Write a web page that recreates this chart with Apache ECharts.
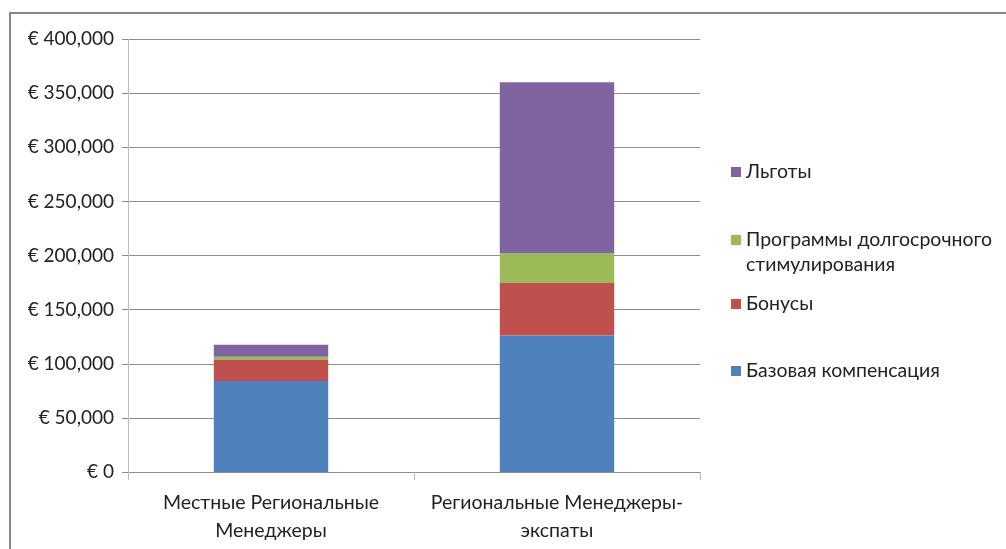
<!DOCTYPE html>
<html>
    <head>
        <meta charset="UTF-8">
        <script src="https://cdn.jsdelivr.net/npm/echarts@6/dist/echarts.min.js"></script>
        <style>
            body { margin: 0; background: #fff; }
        </style>
    </head>
    <body>
        <div id="main" style="width:1006px;height:549px"></div>
        <script type="text/javascript">
            var categories = ['Местные Региональные\nМенеджеры', 'Региональные Менеджеры-\nэкспаты'];
            var seriesNames = ['Базовая компенсация', 'Бонусы', 'Программы долгосрочного стимулирования', 'Льготы'];
            var baseComp = [84000, 126000];
            var bonuses = [19500, 48500];
            var longTerm = [3000, 27500];
            var benefits = [11000, 158000];
            var colors = ['#4F81BD', '#C0504D', '#9BBB59', '#8064A2'];
            var legendTops = [360, 293, 229, 161];

            var chartDom = document.getElementById('main');
            var myChart = echarts.init(chartDom);
            var font = 'Lato, "Open Sans", sans-serif';

            function euro(v) {
                return '€ ' + v.toString().replace(/\B(?=(\d{3})+(?!\d))/g, ',');
            }

            var values = [baseComp, bonuses, longTerm, benefits];
            var series = [];
            var legends = [];
            for (var i = 0; i < seriesNames.length; i++) {
                series.push({
                    name: seriesNames[i],
                    type: 'bar',
                    stack: 'total',
                    barWidth: '40%',
                    data: values[i],
                    itemStyle: { color: colors[i] }
                });
                legends.push({
                    data: [seriesNames[i]],
                    left: 731,
                    top: legendTops[i],
                    padding: 0,
                    itemWidth: 10,
                    itemHeight: 10,
                    icon: 'rect',
                    selectedMode: false,
                    // long name: first line here, second line drawn as graphic text
                    formatter: function (name) {
                        return name.indexOf('Программы') === 0 ? 'Программы долгосрочного' : name;
                    },
                    textStyle: { fontFamily: font, fontSize: 19.5, color: '#222', lineHeight: 22 }
                });
            }

            var option = {
                animation: false,
                backgroundColor: '#fff',
                graphic: [{
                    type: 'rect',
                    shape: { x: 10, y: 13, width: 1100, height: 600 },
                    style: { fill: 'none', stroke: '#878787', lineWidth: 2 }
                }, {
                    type: 'text',
                    left: 746,
                    top: 255,
                    style: { text: 'стимулирования', font: '19.5px ' + font, fill: '#222' }
                }],
                legend: legends,
                grid: { left: 128, right: 306, top: 39, bottom: 77 },
                xAxis: {
                    type: 'category',
                    data: categories,
                    axisLine: { lineStyle: { color: '#8c8c8c' } },
                    axisTick: { show: true, length: 8, lineStyle: { color: '#bcbcbc' } },
                    axisLabel: { interval: 0, fontFamily: font, fontSize: 19.5, color: '#222', lineHeight: 28, margin: 17 }
                },
                yAxis: {
                    type: 'value',
                    min: 0,
                    max: 400000,
                    interval: 50000,
                    axisLine: { show: true, lineStyle: { color: '#bcbcbc' } },
                    axisTick: { show: true, length: 6, lineStyle: { color: '#8c8c8c' } },
                    splitLine: { lineStyle: { color: '#8c8c8c' } },
                    axisLabel: { fontFamily: font, fontSize: 19, color: '#222', margin: 14, formatter: euro }
                },
                series: series
            };

            option && myChart.setOption(option);
        </script>
    </body>
</html>
